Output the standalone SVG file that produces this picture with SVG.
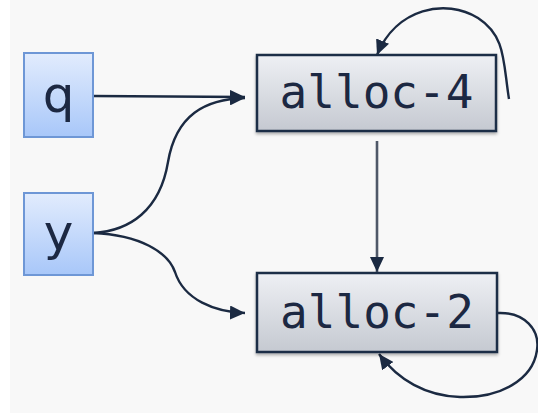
<svg xmlns="http://www.w3.org/2000/svg" width="538" height="413" viewBox="0 0 538 413">
  <defs>
    <linearGradient id="varFill" x1="0" y1="0" x2="0" y2="1">
      <stop offset="0" stop-color="#e2ecfd"/>
      <stop offset="1" stop-color="#a8c7f9"/>
    </linearGradient>
    <linearGradient id="allocFill" x1="0" y1="0" x2="0" y2="1">
      <stop offset="0" stop-color="#eef0f4"/>
      <stop offset="1" stop-color="#c5c9d1"/>
    </linearGradient>
    <filter id="shadow" x="-10%" y="-10%" width="120%" height="140%">
      <feDropShadow dx="0" dy="2" stdDeviation="1.6" flood-color="#000" flood-opacity="0.3"/>
    </filter>
    <marker id="arrow" markerUnits="userSpaceOnUse" markerWidth="16" markerHeight="14" refX="15" refY="7" orient="auto">
      <path d="M0,0 L15,7 L0,14 z" fill="#1b2a42"/>
    </marker>
  </defs>
  <style>
    .var rect { fill: url(#varFill); stroke: #6e97d6; stroke-width: 2; }
    .var text { font-family: "DejaVu Sans", "Noto Sans", sans-serif; font-size: 50px; fill: #1c2842; text-anchor: middle; }
    .alloc rect { fill: url(#allocFill); stroke: #1e2f47; stroke-width: 2.5; filter: url(#shadow); }
    .alloc text { font-family: "DejaVu Sans Mono", "Liberation Mono", monospace; font-size: 46px; fill: #1c2842; text-anchor: middle; }
    .edge { fill: none; stroke: #1b2a42; stroke-width: 2.4; marker-end: url(#arrow); }
  </style>

  <!-- backdrop -->
  <rect x="0" y="0" width="538" height="413" fill="#ffffff"/>
  <rect x="10" y="0" width="528" height="413" fill="#f8f8f8"/>

  <!-- connectors -->
  <g id="edges">
    <path class="edge" d="M93,96 L245,97"/>
    <path class="edge" d="M93,233 C130,231 160,210 168,162 C176,115 205,99 245,98"/>
    <path class="edge" d="M93,233 C140,235 168,252 175,272 C184,300 215,312 245,313"/>
    <path class="edge" d="M377,141 L377,272" style="stroke:#4f5868;stroke-width:2.6"/>
    <path class="edge" d="M509,99 C503,62 506,36 478,18 C446,-2 396,8 377,55"/>
    <path class="edge" d="M498,313 C525,312 540,330 537,350 C533,380 500,398 460,397 C426,396 398,380 379,354"/>
  </g>

  <!-- nodes -->
  <g id="q" class="var">
    <rect x="24" y="53" width="69" height="84"/>
    <text x="58.5" y="112">q</text>
  </g>
  <g id="y" class="var">
    <rect x="24" y="193" width="69" height="82"/>
    <text x="58.5" y="250">y</text>
  </g>
  <g id="alloc-4" class="alloc">
    <rect x="257" y="55" width="239" height="76"/>
    <text x="376.5" y="108">alloc-4</text>
  </g>
  <g id="alloc-2" class="alloc">
    <rect x="257" y="273" width="240" height="79"/>
    <text x="377" y="328">alloc-2</text>
  </g>
</svg>
